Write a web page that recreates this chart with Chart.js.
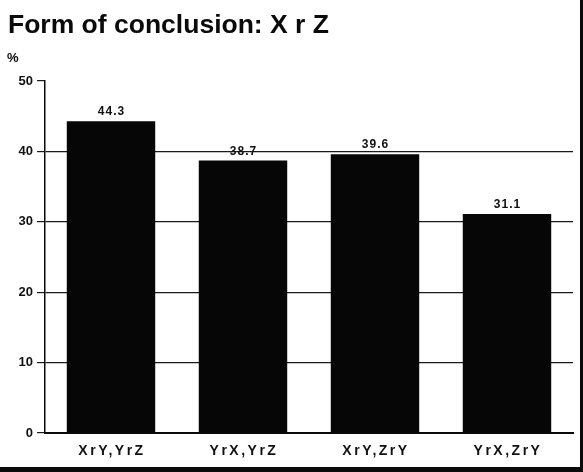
<!DOCTYPE html>
<html>
<head>
<meta charset="utf-8">
<script src="https://cdn.jsdelivr.net/npm/chart.js@4.4.1/dist/chart.umd.min.js"></script>
<style>
  html, body { margin: 0; padding: 0; background: #ffffff; }
  #wrap { width: 583px; height: 472px; position: relative; }
</style>
</head>
<body>
<div id="wrap"><canvas id="c" width="583" height="472"></canvas></div>
<script>
const titleText = "Form of conclusion: X r Z";
const yUnit = "%";
const categories = ["XrY,YrZ", "YrX,YrZ", "XrY,ZrY", "YrX,ZrY"];
const percentValues = [44.3, 38.7, 39.6, 31.1];
const valueLabels = ["44.3", "38.7", "39.6", "31.1"];
const yTicks = [0, 10, 20, 30, 40, 50];

const FONT = "'Liberation Sans', Arial, Helvetica, sans-serif";

const decorPlugin = {
  id: 'decor',
  beforeDraw(chart) {
    const ctx = chart.ctx;
    ctx.save();
    ctx.fillStyle = '#ffffff';
    ctx.fillRect(0, 0, chart.width, chart.height);
    ctx.restore();
  },
  afterDatasetsDraw(chart) {
    const ctx = chart.ctx;
    const meta = chart.getDatasetMeta(0);
    ctx.save();
    ctx.fillStyle = '#111111';
    ctx.font = "bold 12px " + FONT;
    ctx.letterSpacing = '1px';
    ctx.textAlign = 'center';
    ctx.textBaseline = 'alphabetic';
    meta.data.forEach((bar, i) => {
      ctx.fillText(valueLabels[i], bar.x + 0.5, bar.y - 6);
    });
    ctx.restore();
  },
  afterDraw(chart) {
    const ctx = chart.ctx;
    const xs = chart.scales.x;
    ctx.save();
    // category labels along the x scale
    ctx.fillStyle = '#111111';
    ctx.font = "bold 14px " + FONT;
    ctx.letterSpacing = '2.5px';
    ctx.textAlign = 'center';
    ctx.textBaseline = 'middle';
    categories.forEach((lab, i) => {
      ctx.fillText(lab, xs.getPixelForTick(i) + 1, xs.top + 18);
    });
    ctx.letterSpacing = '0px';
    // title
    ctx.fillStyle = '#0a0a0a';
    ctx.font = "bold 26.5px " + FONT;
    ctx.textAlign = 'left';
    ctx.textBaseline = 'alphabetic';
    ctx.fillText(titleText, 8, 33);
    // unit
    ctx.font = "bold 13px " + FONT;
    ctx.fillText(yUnit, 7, 62);
    // frame: right edge and bottom band
    ctx.fillStyle = '#0a0a0a';
    ctx.fillRect(580, 0, 3, chart.height);
    ctx.fillRect(0, 467, chart.width, 5);
    ctx.restore();
  }
};

new Chart(document.getElementById('c'), {
  type: 'bar',
  data: {
    labels: categories,
    datasets: [{
      data: percentValues,
      backgroundColor: '#060606',
      borderWidth: 0,
      barPercentage: 0.67,
      categoryPercentage: 1.0
    }]
  },
  options: {
    responsive: false,
    animation: false,
    devicePixelRatio: 1,
    layout: { padding: { top: 81, right: 10, left: 0, bottom: 0 } },
    plugins: {
      legend: { display: false },
      title: { display: false },
      tooltip: { enabled: false }
    },
    scales: {
      x: {
        grid: { display: false, drawTicks: false },
        border: { display: true, color: '#0a0a0a', width: 2 },
        ticks: { display: false },
        afterFit(scale) { scale.height = 39; }
      },
      y: {
        min: 0,
        max: 50,
        afterBuildTicks(scale) { scale.ticks = yTicks.map(v => ({ value: v })); },
        grid: {
          drawTicks: true,
          tickLength: 8,
          lineWidth: 1.2,
          color: (c) => (c.tick && (c.tick.value === 50 || c.tick.value === 0)) ? 'rgba(0,0,0,0)' : '#1a1a1a',
          tickColor: '#1a1a1a',
          tickWidth: 1.2
        },
        border: { display: true, color: '#0a0a0a', width: 1.5 },
        ticks: {
          color: '#111111',
          font: { family: FONT, size: 13, weight: 'bold' },
          padding: 4
        },
        afterFit(scale) { scale.width = 45; }
      }
    }
  },
  plugins: [decorPlugin]
});
</script>
</body>
</html>
